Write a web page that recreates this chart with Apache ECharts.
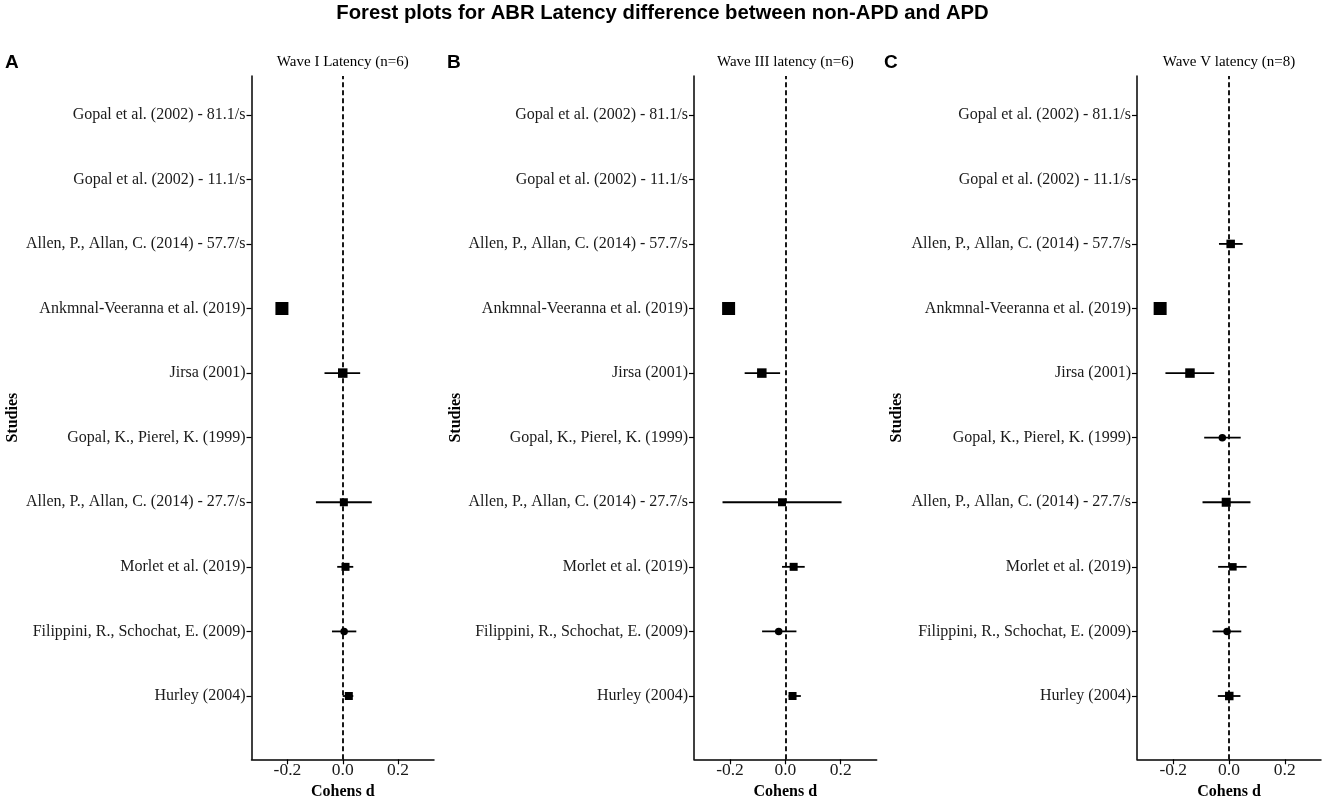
<!DOCTYPE html>
<html><head><meta charset="utf-8">
<script src="https://cdn.jsdelivr.net/npm/echarts@6/dist/echarts.min.js"></script>
<style>html,body{margin:0;padding:0;background:#fff}#c{width:1325px;height:799px}</style>
</head><body><div id="c"></div>
<script>
const studies = [
  'Gopal et al. (2002) - 81.1/s',
  'Gopal et al. (2002) - 11.1/s',
  'Allen, P., Allan, C. (2014) - 57.7/s',
  'Ankmnal-Veeranna et al. (2019)',
  'Jirsa (2001)',
  'Gopal, K., Pierel, K. (1999)',
  'Allen, P., Allan, C. (2014) - 27.7/s',
  'Morlet et al. (2019)',
  'Filippini, R., Schochat, E. (2009)',
  'Hurley (2004)'
];
const panelTitles = ['Wave I Latency (n=6)', 'Wave III latency (n=6)', 'Wave V latency (n=8)'];
const panelLetters = ['A', 'B', 'C'];
const xTicks = [-0.2, 0.0, 0.2];
// study design group: 'g' -> square marker, 'c' -> circle marker
const design = ['g','g','g','g','g','c','g','g','c','g'];

// Wave I
const waveI_est = [null, null, null, -0.22, 0.000, null, 0.004, 0.010, 0.005, 0.022];
const waveI_lo  = [null, null, null, -0.23, -0.066, null, -0.097, -0.020, -0.039, 0.000];
const waveI_hi  = [null, null, null, -0.21, 0.063, null, 0.105, 0.038, 0.049, 0.038];
const waveI_w   = [null, null, null, 13, 9.5, null, 8, 8, 7.5, 8];

// Wave III
const waveIII_est = [null, null, null, -0.205, -0.085, null, -0.012, 0.030, -0.024, 0.026];
const waveIII_lo  = [null, null, null, -0.215, -0.147, null, -0.227, -0.012, -0.084, 0.012];
const waveIII_hi  = [null, null, null, -0.195, -0.019, null, 0.203, 0.070, 0.040, 0.056];
const waveIII_w   = [null, null, null, 13, 9.5, null, 8, 8, 7.5, 8];

// Wave V
const waveV_est = [null, null, 0.006, -0.247, -0.140, -0.024, -0.010, 0.014, -0.007, 0.001];
const waveV_lo  = [null, null, -0.036, -0.257, -0.228, -0.089, -0.095, -0.039, -0.059, -0.040];
const waveV_hi  = [null, null, 0.049, -0.237, -0.053, 0.042, 0.077, 0.063, 0.044, 0.041];
const waveV_w   = [null, null, 8.5, 13, 9.5, 7.5, 9, 7.5, 7.5, 8.5];

const panels = [
  {est: waveI_est, lo: waveI_lo, hi: waveI_hi, w: waveI_w},
  {est: waveIII_est, lo: waveIII_lo, hi: waveIII_hi, w: waveIII_w},
  {est: waveV_est, lo: waveV_lo, hi: waveV_hi, w: waveV_w}
];

const n = studies.length;
const yPos = studies.map((s, i) => n - i);
const labelOf = {};
studies.forEach((s, i) => { labelOf[n - i] = s; });

const gridLefts = [251.5, 694, 1137];
const gridWidths = [182.5, 182.7, 184];
const studiesX = [12, 455, 896];
const TOP = 76, H = 683.3;
const serif = 'Liberation Serif';

const grids = [], xAxes = [], yAxes = [], series = [];
panels.forEach((p, k) => {
  grids.push({left: gridLefts[k], top: TOP, width: gridWidths[k], height: H,
    containLabel: false, outerBoundsMode: 'none'});
  xAxes.push({
    type: 'value', gridIndex: k, min: -0.33, max: 0.33,
    name: 'Cohens d', nameLocation: 'middle', nameGap: 21,
    nameTextStyle: {fontFamily: serif, fontWeight: 'bold', fontSize: 16, color: '#000'},
    axisLine: {show: true, onZero: false, lineStyle: {color: '#000', width: 1.5}},
    axisTick: {show: true, length: 5, customValues: xTicks, lineStyle: {color: '#000', width: 1.2}},
    axisLabel: {customValues: xTicks, fontFamily: serif, fontSize: 17.5, color: '#1a1a1a', margin: 2,
      formatter: v => v.toFixed(1)},
    splitLine: {show: false}
  });
  yAxes.push({
    type: 'value', gridIndex: k, min: 0.02, max: 10.6,
    name: 'Studies', nameLocation: 'middle', nameRotate: 90,
    nameGap: gridLefts[k] - studiesX[k] - 9,
    nameTextStyle: {fontFamily: serif, fontWeight: 'bold', fontSize: 16, color: '#000'},
    axisLine: {show: true, onZero: false, lineStyle: {color: '#000', width: 1.5}},
    axisTick: {show: true, length: 5, customValues: yPos, lineStyle: {color: '#000', width: 1.2}},
    axisLabel: {customValues: yPos, fontFamily: serif, fontSize: 16, color: '#1a1a1a', margin: 6,
      formatter: v => labelOf[Math.round(v)] || ''},
    splitLine: {show: false}
  });
  const ciData = [], ptSq = [], ptCi = [];
  studies.forEach((s, i) => {
    if (p.est[i] === null) return;
    ciData.push([p.lo[i], p.hi[i], yPos[i]]);
    const d = [p.est[i], yPos[i], p.w[i]];
    if (design[i] === 'c') ptCi.push(d); else ptSq.push(d);
  });
  series.push({
    type: 'custom', xAxisIndex: k, yAxisIndex: k, silent: true,
    renderItem: (params, api) => {
      const a = api.coord([api.value(0), api.value(2)]);
      const b = api.coord([api.value(1), api.value(2)]);
      return {type: 'line', shape: {x1: a[0], y1: a[1], x2: b[0], y2: b[1]},
        style: {stroke: '#000', lineWidth: 1.8}};
    },
    data: ciData, z: 3
  });
  series.push({
    type: 'scatter', xAxisIndex: k, yAxisIndex: k, symbol: 'rect',
    symbolSize: v => v[2], itemStyle: {color: '#000', opacity: 1}, data: ptSq, z: 4, silent: true,
    markLine: {silent: true, symbol: 'none', label: {show: false},
      lineStyle: {color: '#000', type: [5, 3], width: 1.8},
      data: [{xAxis: 0}]}
  });
  series.push({
    type: 'scatter', xAxisIndex: k, yAxisIndex: k, symbol: 'circle',
    symbolSize: v => v[2], itemStyle: {color: '#000', opacity: 1}, data: ptCi, z: 4, silent: true
  });
});

const titles = [{
  text: 'Forest plots for ABR Latency difference between non-APD and APD',
  left: 'center', top: 3, padding: 0,
  textStyle: {fontFamily: 'Liberation Sans', fontWeight: 'bold', fontSize: 20.3, color: '#000'}
}];
panelTitles.forEach((t, k) => {
  titles.push({text: t, left: gridLefts[k] + gridWidths[k] / 2, top: 55, padding: 0, textAlign: 'center',
    textStyle: {fontFamily: serif, fontWeight: 'normal', fontSize: 15, color: '#000'}});
});
const letterX = [5, 447, 884];
panelLetters.forEach((t, k) => {
  titles.push({text: t, left: letterX[k], top: 53, padding: 0,
    textStyle: {fontFamily: 'Liberation Sans', fontWeight: 'bold', fontSize: 19, color: '#000'}});
});

const chart = echarts.init(document.getElementById('c'), null, {renderer: 'canvas'});
chart.setOption({
  animation: false,
  backgroundColor: '#fff',
  title: titles,
  grid: grids, xAxis: xAxes, yAxis: yAxes, series: series
});
</script></body></html>
